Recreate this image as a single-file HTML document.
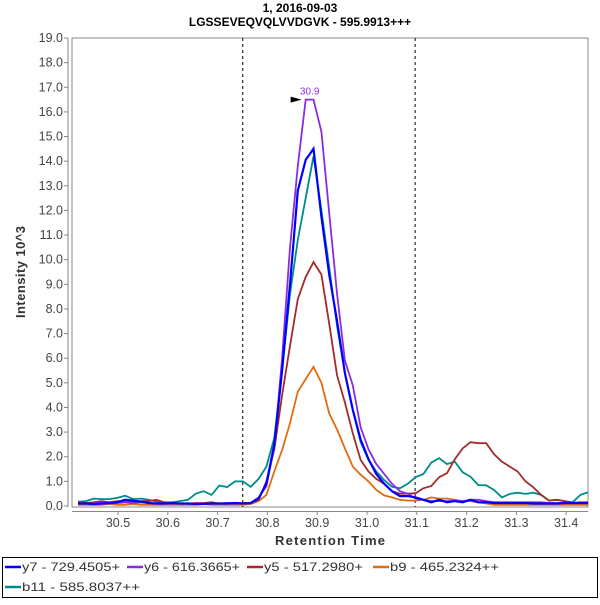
<!DOCTYPE html>
<html><head><meta charset="utf-8"><style>
body{margin:0;background:#fff;width:600px;height:600px;overflow:hidden}
svg text{font-family:"Liberation Sans","DejaVu Sans",sans-serif}
</style></head><body>
<svg id="c" width="600" height="600" xmlns="http://www.w3.org/2000/svg">
<text x="300" y="12" text-anchor="middle" font-size="12" font-weight="bold">1, 2016-09-03</text>
<text x="300" y="26" text-anchor="middle" font-size="12" font-weight="bold">LGSSEVEQVQLVVDGVK - 595.9913+++</text>
<rect x="72" y="38" width="516" height="469" fill="#fff" stroke="#888"/>
<g id="yticks"></g>
<g id="xticks"></g>
<g id="series"></g>
<text transform="translate(25,272) rotate(-90)" text-anchor="middle" font-size="13" font-weight="bold" fill="#333" textLength="92">Intensity 10^3</text>
<text x="330" y="545" text-anchor="middle" font-size="13" font-weight="bold" fill="#333" textLength="110">Retention Time</text>
<rect x="2.5" y="557.5" width="595" height="40" fill="none" stroke="#000"/>
<g id="legend"></g>
</svg>
<script>
const tickVals=[0,1,2,3,4,5,6,7,8,9,10,11,12,13,14,15,16,17,18,19];
const xTickVals=[30.5,30.6,30.7,30.8,30.9,31.0,31.1,31.2,31.3,31.4];
const t0=30.4197, dt=0.015763;
const y7=[0.1,0.1,0.08,0.1,0.12,0.15,0.25,0.22,0.18,0.12,0.1,0.1,0.12,0.1,0.1,0.08,0.08,0.1,0.1,0.1,0.12,0.1,0.12,0.3,0.9,2.5,5.5,9.0,12.8,14.05,14.5,11.75,9.4,7.5,5.4,3.9,2.7,1.9,1.3,0.9,0.6,0.4,0.4,0.35,0.25,0.15,0.25,0.15,0.2,0.15,0.25,0.15,0.15,0.12,0.12,0.12,0.12,0.12,0.1,0.1,0.1,0.1,0.12,0.12,0.12,0.12];
const y6=[0.1,0.1,0.1,0.12,0.1,0.12,0.15,0.12,0.15,0.12,0.1,0.1,0.1,0.1,0.1,0.1,0.1,0.1,0.1,0.1,0.1,0.1,0.12,0.35,0.8,2.4,6.0,10.5,13.8,16.5,16.5,15.2,11.9,8.6,5.9,4.9,3.2,2.3,1.7,1.3,0.9,0.6,0.5,0.3,0.25,0.2,0.2,0.2,0.22,0.2,0.25,0.25,0.2,0.15,0.15,0.15,0.15,0.15,0.15,0.15,0.12,0.12,0.12,0.12,0.12,0.12];
const y5=[0.15,0.12,0.15,0.2,0.15,0.2,0.2,0.15,0.2,0.2,0.25,0.15,0.12,0.1,0.1,0.12,0.12,0.15,0.1,0.12,0.1,0.12,0.12,0.25,1.0,2.3,4.5,6.5,8.4,9.3,9.9,9.4,7.4,5.3,4.2,2.95,1.87,1.4,1.1,0.9,0.6,0.5,0.5,0.52,0.72,0.81,1.17,1.33,1.9,2.34,2.59,2.55,2.55,2.1,1.8,1.6,1.4,1.0,0.76,0.45,0.22,0.25,0.2,0.12,0.15,0.15];
const b9=[0.05,0.05,0.05,0.05,0.08,0.05,0.05,0.08,0.05,0.05,0.05,0.05,0.05,0.05,0.05,0.05,0.08,0.05,0.05,0.05,0.05,0.05,0.08,0.2,0.45,1.4,2.27,3.36,4.64,5.15,5.65,5.0,3.76,3.1,2.34,1.6,1.27,1.0,0.65,0.43,0.35,0.25,0.22,0.22,0.25,0.35,0.3,0.3,0.25,0.2,0.2,0.15,0.1,0.05,0.05,0.05,0.05,0.05,0.05,0.05,0.05,0.05,0.05,0.05,0.05,0.05];
const b11=[0.18,0.2,0.3,0.28,0.28,0.33,0.42,0.28,0.3,0.25,0.18,0.15,0.15,0.2,0.25,0.5,0.6,0.45,0.83,0.77,1.0,1.0,0.78,1.1,1.6,2.76,5.5,8.6,10.8,12.5,14.2,12.0,9.7,7.3,5.4,3.9,2.6,1.87,1.4,1.05,0.78,0.72,0.9,1.17,1.3,1.76,1.94,1.7,1.8,1.37,1.19,0.85,0.84,0.65,0.35,0.49,0.54,0.49,0.54,0.45,0.22,0.25,0.2,0.15,0.45,0.56];
const seriesNames=["y7 - 729.4505+","y6 - 616.3665+","y5 - 517.2980+","b9 - 465.2324++","b11 - 585.8037++"];
const seriesColors=["#0000ff","#8a2be2","#a52a2a","#e06c10","#008b8b"];
const NS="http://www.w3.org/2000/svg";
const X=t=>118+(t-30.5)*498;
const Y=v=>506-v*(468/19);
function mk(tag,attrs,parent){const e=document.createElementNS(NS,tag);for(const k in attrs)e.setAttribute(k,attrs[k]);parent.appendChild(e);return e;}
const yg=document.getElementById('yticks');
mk('line',{x1:68,y1:38,x2:68,y2:507,stroke:'#888'},yg);
tickVals.forEach(v=>{
 const l=mk('line',{x1:64,x2:68,y1:Y(v),y2:Y(v),stroke:'#888'},yg);
 
 
 const t=mk('text',{x:63,y:Y(v)+4,'text-anchor':'end','font-size':12.5,fill:'#444'},yg);
 t.textContent=v.toFixed(1);
 
 
});
const xg=document.getElementById('xticks');
mk('line',{x1:72,y1:511.5,x2:588,y2:511.5,stroke:'#888'},xg);
xTickVals.forEach(v=>{
 const l=mk('line',{x1:X(v),x2:X(v),y1:511,y2:515,stroke:'#888'},xg);
 
 
 const t=mk('text',{x:X(v),y:527,'text-anchor':'middle','font-size':12.5,fill:'#444'},xg);
 t.textContent=v.toFixed(1);
 
 
});
const sg=document.getElementById('series');
[30.7505,31.0966].forEach(v=>{
 const l=mk('line',{x1:X(v),x2:X(v),y1:38,y2:507,stroke:'#000','stroke-dasharray':'3,3'},sg);
 
 
});
const data=[y7,y6,y5,b9,b11];
const order=[4,3,2,1,0];
const clip=mk('clipPath',{id:'cp'},sg);mk('rect',{x:72,y:38,width:516,height:469},clip);
order.forEach(si=>{
 const pts=data[si].map((v,i)=>X(t0+i*dt).toFixed(1)+','+Y(v).toFixed(1)).join(' ');
 const p=mk('polyline',{points:pts,fill:'none',stroke:seriesColors[si],'stroke-width':si==0?2.2:1.8,'clip-path':'url(#cp)'},sg);
 
 
});
let mi=0;y6.forEach((v,i)=>{if(v>y6[mi])mi=i;});
const ax=X(t0+mi*dt), ay=Y(y6[mi]);
const tri=mk('polygon',{points:`${ax-15},${ay-3} ${ax-4},${ay} ${ax-15},${ay+3}`,fill:'#000'},sg);


const at=mk('text',{x:ax+4,y:ay-5,'text-anchor':'middle','font-size':10,fill:'#8a2be2'},sg);
at.textContent=(t0+mi*dt).toFixed(1);


const lg=document.getElementById('legend');
const lpos=[[5,571,98],[127,571,96],[247,571,99],[373,571,109],[5,591,118]];
seriesNames.forEach((n,i)=>{
 const g=mk('g',{},lg);
 
 
 const [lx,ly,w]=lpos[i];
 mk('line',{x1:lx,x2:lx+16,y1:ly-4,y2:ly-4,stroke:seriesColors[i],'stroke-width':2.5},g);
 const t=mk('text',{x:lx+17,y:ly,'font-size':12,fill:'#333',textLength:w,lengthAdjust:'spacingAndGlyphs'},g);
 t.textContent=n;
});
</script>
</body></html>
